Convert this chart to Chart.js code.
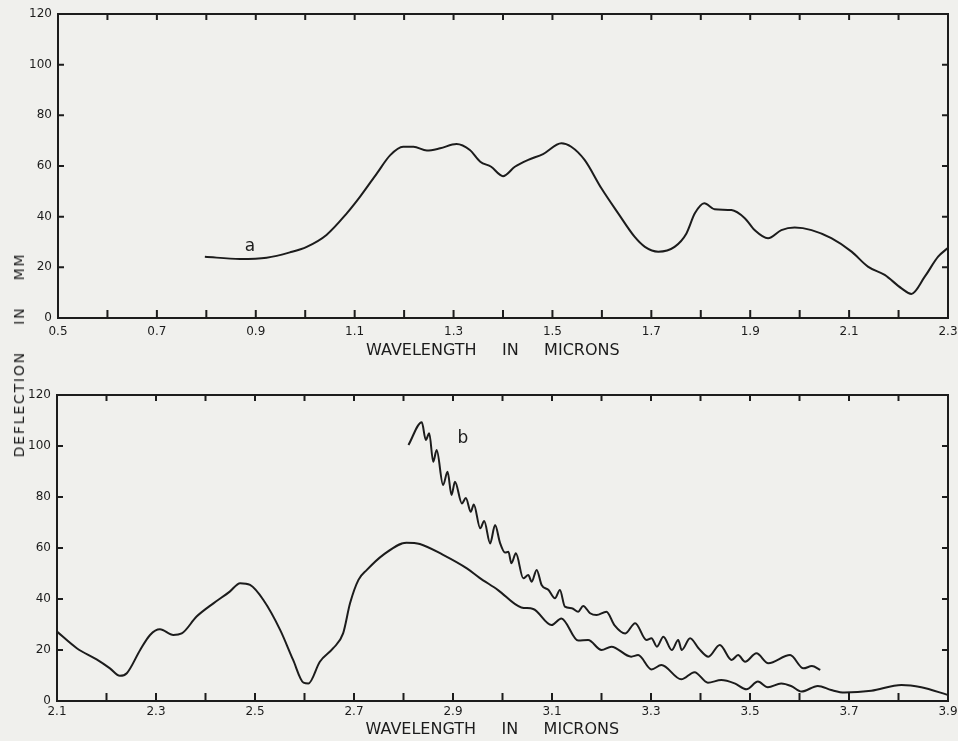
<!DOCTYPE html>
<html>
<head>
<meta charset="utf-8">
<script src="https://cdn.jsdelivr.net/npm/chart.js@4.4.0/dist/chart.umd.min.js"></script>
<style>
  html, body { margin: 0; padding: 0; background: #f0f0ed; }
  #page { position: relative; width: 958px; height: 741px; overflow: hidden; }
  #topPanel { position: absolute; left: 0; top: 0; }
  #bottomPanel { position: absolute; left: 0; top: 370px; }
  #yLabel {
    position: absolute; left: 19px; top: 355px;
    transform: translate(-50%, -50%) rotate(-90deg);
    font: 14px "DejaVu Sans", sans-serif; letter-spacing: 1.8px; word-spacing: 20px;
    white-space: nowrap; color: #1c1c1c;
  }
</style>
</head>
<body>
<div id="page">
  <canvas id="topPanel" width="958" height="370"></canvas>
  <canvas id="bottomPanel" width="958" height="371"></canvas>
  <div id="yLabel">DEFLECTION IN MM</div>
</div>
<script>
// ---- data ----
// curve a, 0.5 - 2.3 microns (top panel)
const aWavelength = [0.797, 0.868, 0.922, 0.969, 1.003, 1.043, 1.084, 1.111, 1.145, 1.172,
  1.198, 1.219, 1.246, 1.273, 1.306, 1.333, 1.354, 1.376, 1.400, 1.424,
  1.451, 1.481, 1.518, 1.538, 1.565, 1.599, 1.633, 1.666, 1.687, 1.714,
  1.747, 1.771, 1.788, 1.807, 1.828, 1.862, 1.889, 1.909, 1.936, 1.963,
  1.990, 2.024, 2.064, 2.105, 2.138, 2.172, 2.206, 2.226, 2.253, 2.280, 2.299];
const aDeflection = [24.2, 23.3, 23.8, 25.9, 28.1, 32.8, 41.3, 47.9, 57.1, 64.3,
  67.6, 67.6, 66.1, 67.0, 68.7, 66.3, 61.7, 59.7, 56.0, 59.7,
  62.4, 64.7, 69.0, 67.6, 62.4, 51.2, 41.3, 32.1, 28.1, 26.2,
  28.1, 33.4, 41.3, 45.3, 42.9, 42.6, 39.4, 34.7, 31.5, 34.7,
  35.7, 34.7, 31.5, 26.2, 20.3, 17.0, 11.7, 9.5, 16.3, 24.2, 27.5];

// curve a continued, 2.1 - 3.9 microns (bottom panel)
const a2Wavelength = [2.100, 2.140, 2.180, 2.207, 2.227, 2.241, 2.268, 2.288, 2.308, 2.335,
  2.352, 2.382, 2.416, 2.449, 2.470, 2.490, 2.517, 2.551, 2.577, 2.598,
  2.608, 2.631, 2.658, 2.678, 2.692, 2.709, 2.726, 2.759, 2.806, 2.833,
  2.880, 2.928, 2.953, 2.991, 3.038, 3.062, 3.099, 3.119, 3.153, 3.173,
  3.200, 3.220, 3.260, 3.274, 3.301, 3.321, 3.361, 3.388, 3.415, 3.442,
  3.469, 3.493, 3.516, 3.536, 3.563, 3.583, 3.604, 3.637, 3.664, 3.691,
  3.745, 3.806, 3.846, 3.899];
const a2Deflection = [27.2, 20.7, 16.3, 12.8, 9.9, 10.9, 20.0, 25.9, 28.1, 25.9,
  26.5, 33.1, 38.3, 42.9, 46.2, 45.5, 39.6, 27.8, 16.1, 7.2,
  6.9, 15.4, 20.7, 26.5, 38.3, 47.5, 51.4, 57.3, 62.1, 61.6,
  57.3, 52.0, 48.4, 43.5, 36.7, 36.1, 29.8, 32.4, 23.7, 23.9,
  20.0, 21.3, 17.4, 18.0, 12.4, 14.1, 8.5, 11.3, 7.2, 8.2,
  6.9, 4.6, 7.6, 5.4, 6.9, 5.9, 3.7, 5.9, 4.3, 3.3,
  4.0, 6.3, 5.4, 2.4];

// curve b (bottom panel)
const bWavelength = [2.810, 2.837, 2.845, 2.852, 2.860, 2.867, 2.880, 2.889, 2.897, 2.904,
  2.918, 2.926, 2.936, 2.942, 2.955, 2.963, 2.975, 2.985, 2.995, 3.005,
  3.012, 3.018, 3.027, 3.042, 3.052, 3.059, 3.069, 3.079, 3.093, 3.106,
  3.116, 3.126, 3.140, 3.153, 3.163, 3.177, 3.190, 3.210, 3.226, 3.248,
  3.268, 3.291, 3.301, 3.312, 3.325, 3.342, 3.355, 3.362, 3.379, 3.396,
  3.416, 3.439, 3.463, 3.476, 3.490, 3.513, 3.537, 3.581, 3.608, 3.625, 3.642];
const bDeflection = [100.4, 109.3, 102.4, 105.0, 93.8, 98.4, 84.7, 89.9, 80.8, 86.0,
  77.5, 79.6, 74.2, 77.1, 67.7, 70.6, 61.8, 69.0, 62.0, 58.2,
  58.5, 54.0, 57.9, 48.1, 49.4, 46.8, 51.4, 45.5, 43.5, 40.3,
  43.5, 37.0, 36.4, 35.0, 37.3, 34.4, 33.7, 35.0, 29.8, 26.5,
  30.5, 23.9, 24.6, 21.3, 25.2, 20.0, 23.9, 20.0, 24.6, 20.7,
  17.4, 22.0, 16.1, 18.0, 15.4, 18.7, 14.8, 18.0, 12.8, 13.7, 12.2];

// axes
const topRange = [0.5, 2.3];
const bottomRange = [2.1, 3.9];
const yRange = [0, 120];
const xStep = 0.1;
const yStep = 20;
const xTitle = 'WAVELENGTH     IN     MICRONS    ';

const INK = '#1c1c1c';
const TICK_FONT = { family: '"DejaVu Sans", sans-serif', size: 12 };

const toPoints = (xs, ys) => xs.map((x, i) => ({ x: x, y: ys[i] }));

// frame box with inward ticks on all four sides, plus curve letter
const framePlugin = {
  id: 'frame',
  afterDatasetsDraw(chart, args, opts) {
    const { ctx, chartArea: a, scales: { x, y } } = chart;
    ctx.save();
    ctx.strokeStyle = INK;
    ctx.lineWidth = 2;
    ctx.strokeRect(a.left, a.top, a.right - a.left, a.bottom - a.top);
    ctx.beginPath();
    x.ticks.forEach(t => {
      const px = x.getPixelForValue(t.value);
      if (px < a.left + 2 || px > a.right - 2) return;
      ctx.moveTo(px, a.bottom); ctx.lineTo(px, a.bottom - 8);
      ctx.moveTo(px, a.top); ctx.lineTo(px, a.top + 6);
    });
    y.ticks.forEach(t => {
      const py = y.getPixelForValue(t.value);
      if (py < a.top + 2 || py > a.bottom - 2) return;
      ctx.moveTo(a.left, py); ctx.lineTo(a.left + 6, py);
      ctx.moveTo(a.right, py); ctx.lineTo(a.right - 6, py);
    });
    ctx.stroke();
    (opts.labels || []).forEach(l => {
      ctx.fillStyle = INK;
      ctx.font = '17px "DejaVu Sans", sans-serif';
      ctx.textAlign = 'center';
      ctx.textBaseline = 'middle';
      ctx.fillText(l.text, x.getPixelForValue(l.x), y.getPixelForValue(l.y));
    });
    ctx.restore();
  }
};

function makePanel(canvasId, range, datasets, layoutPad, xHeight, yWidth, tickPad, titlePad, labels) {
  return new Chart(document.getElementById(canvasId), {
    type: 'line',
    data: { datasets: datasets },
    options: {
      responsive: false,
      animation: false,
      parsing: false,
      layout: { padding: layoutPad },
      elements: { point: { radius: 0 } },
      plugins: { legend: { display: false }, tooltip: { enabled: false }, frame: { labels: labels } },
      scales: {
        x: {
          type: 'linear', min: range[0], max: range[1],
          grid: { display: false, drawTicks: false },
          border: { display: false },
          ticks: {
            stepSize: xStep, autoSkip: false, maxRotation: 0, padding: tickPad,
            color: INK, font: TICK_FONT,
            callback: (v, i) => i % 2 === 0 ? v.toFixed(1) : ''
          },
          title: { display: true, text: xTitle, color: INK, padding: { top: 0, bottom: titlePad },
                   font: { family: '"DejaVu Sans", sans-serif', size: 16 } },
          afterFit: s => { s.height = xHeight; s.paddingLeft = 0; s.paddingRight = 0; }
        },
        y: {
          min: yRange[0], max: yRange[1],
          grid: { display: false, drawTicks: false },
          border: { display: false },
          ticks: { stepSize: yStep, padding: 6, color: INK, font: TICK_FONT },
          afterFit: s => { s.width = yWidth; s.paddingTop = 0; s.paddingBottom = 0; }
        }
      }
    },
    plugins: [framePlugin]
  });
}

const lineStyle = { borderColor: INK, borderWidth: 2, fill: false, cubicInterpolationMode: 'monotone' };

makePanel('topPanel', topRange,
  [Object.assign({ label: 'a', data: toPoints(aWavelength, aDeflection) }, lineStyle)],
  { left: 0, right: 10, top: 14, bottom: 0 }, 52, 58, 7, 10,
  [{ text: 'a', x: 0.888, y: 28 }]);

makePanel('bottomPanel', bottomRange,
  [Object.assign({ label: 'a', data: toPoints(a2Wavelength, a2Deflection) }, lineStyle),
   Object.assign({ label: 'b', data: toPoints(bWavelength, bDeflection) }, lineStyle)],
  { left: 0, right: 10, top: 25, bottom: 0 }, 40, 57, 4, 2,
  [{ text: 'b', x: 2.92, y: 103 }]);
</script>
</body>
</html>
